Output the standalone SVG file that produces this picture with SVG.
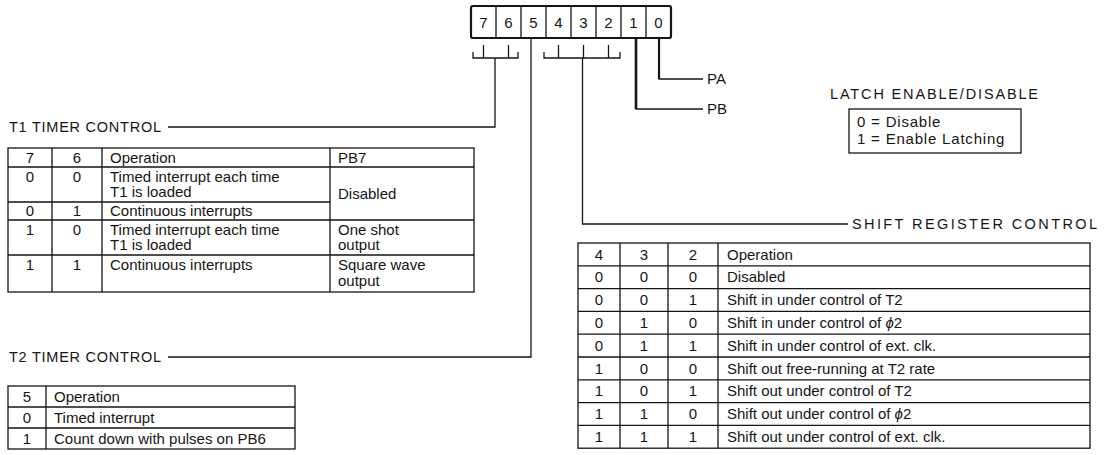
<svg xmlns="http://www.w3.org/2000/svg" width="1104" height="455" viewBox="0 0 1104 455">
<style>
.t{font-family:"Liberation Sans",Arial,sans-serif;font-size:15px;fill:#151515}
.h{font-size:14.5px}
.c{text-anchor:middle}
.ln{stroke:#151515;stroke-width:1.3;fill:none}
.bd{stroke:#151515;stroke-width:2.2;fill:none}
.bg{fill:#fff}
</style>
<rect class="bg" width="1104" height="455"/>

<g id="register">
<rect x="471" y="6" width="200" height="32" rx="2" class="bd"/>
<path class="ln" d="M496 6V38M521 6V38M546 6V38M571 6V38M596 6V38M621 6V38M646 6V38"/>
<text class="t c" x="483.5" y="28">7</text>
<text class="t c" x="508.5" y="28">6</text>
<text class="t c" x="533.5" y="28">5</text>
<text class="t c" x="558.5" y="28">4</text>
<text class="t c" x="583.5" y="28">3</text>
<text class="t c" x="608.5" y="28">2</text>
<text class="t c" x="633.5" y="28">1</text>
<text class="t c" x="658.5" y="28">0</text>
</g>

<g id="connectors">
<path class="ln" d="M473 52V58H518V52M483.5 45V58M508.5 45V58M495 58V127H168"/>
<path class="ln" d="M544 52V58H620V52M558.5 45V58M583.5 45V58M608.5 45V58M582.5 58V224H848"/>
<path class="ln" d="M531 38V357H168"/>
<path class="ln" d="M636 38V109H703" style="stroke-width:1.6"/>
<path class="ln" d="M636 38V109" style="stroke-width:2.6"/>
<path class="ln" d="M659 38V79H703"/>
<path class="ln" d="M659 38V79" style="stroke-width:2.2"/>
</g>

<g id="pa"><text class="t" x="707" y="84">PA</text></g>
<g id="pb"><text class="t" x="707" y="114">PB</text></g>

<g id="latch">
<text class="t h" x="830" y="99" textLength="208" lengthAdjust="spacing">LATCH ENABLE/DISABLE</text>
<rect x="849" y="109" width="172" height="44" class="ln"/>
<text class="t" x="857" y="127" letter-spacing="0.8">0 = Disable</text>
<text class="t" x="857" y="144" letter-spacing="0.8">1 = Enable Latching</text>
</g>

<g id="t1-title"><text class="t h" x="9" y="132" textLength="152" lengthAdjust="spacing">T1 TIMER CONTROL</text></g>

<g id="t1-table">
<rect x="8" y="148" width="466" height="144" class="ln"/>
<path class="ln" d="M52 148V292M102 148V292M330 148V292M8 167H474M8 202H330M8 220H474M8 255H474"/>
<text class="t c" x="30" y="163">7</text><text class="t c" x="77" y="163">6</text>
<text class="t" x="110" y="163">Operation</text><text class="t" x="338" y="163">PB7</text>
<text class="t c" x="30" y="182">0</text><text class="t c" x="77" y="182">0</text>
<text class="t" x="110" y="182">Timed interrupt each time</text>
<text class="t" x="110" y="197">T1 is loaded</text>
<text class="t" x="338" y="199">Disabled</text>
<text class="t c" x="30" y="216">0</text><text class="t c" x="77" y="216">1</text>
<text class="t" x="110" y="216">Continuous interrupts</text>
<text class="t c" x="30" y="235">1</text><text class="t c" x="77" y="235">0</text>
<text class="t" x="110" y="235">Timed interrupt each time</text>
<text class="t" x="110" y="250">T1 is loaded</text>
<text class="t" x="338" y="235">One shot</text>
<text class="t" x="338" y="250">output</text>
<text class="t c" x="30" y="270">1</text><text class="t c" x="77" y="270">1</text>
<text class="t" x="110" y="270">Continuous interrupts</text>
<text class="t" x="338" y="270">Square wave</text>
<text class="t" x="338" y="286">output</text>
</g>

<g id="t2-title"><text class="t h" x="9" y="362" textLength="152" lengthAdjust="spacing">T2 TIMER CONTROL</text></g>

<g id="t2-table">
<rect x="8" y="386" width="287" height="63" class="ln"/>
<path class="ln" d="M46 386V449M8 407H295M8 428H295"/>
<text class="t c" x="27" y="402">5</text><text class="t" x="54" y="402">Operation</text>
<text class="t c" x="27" y="423">0</text><text class="t" x="54" y="423">Timed interrupt</text>
<text class="t c" x="27" y="444">1</text><text class="t" x="54" y="444">Count down with pulses on PB6</text>
</g>

<g id="sr-title"><text class="t h" x="852" y="229" textLength="245" lengthAdjust="spacing">SHIFT REGISTER CONTROL</text></g>

<g id="sr-table">
<rect x="578" y="243" width="512" height="205.2" class="ln"/>
<path class="ln" d="M620 243V448.2M668 243V448.2M718 243V448.2M578 265.8H1090M578 288.6H1090M578 311.4H1090M578 334.2H1090M578 357H1090M578 379.8H1090M578 402.6H1090M578 425.4H1090"/>
<g class="t">
<text class="c" x="599" y="259.5">4</text><text class="c" x="644" y="259.5">3</text><text class="c" x="693" y="259.5">2</text><text x="727" y="259.5">Operation</text>
<text class="c" x="599" y="282.3">0</text><text class="c" x="644" y="282.3">0</text><text class="c" x="693" y="282.3">0</text><text x="727" y="282.3">Disabled</text>
<text class="c" x="599" y="305.1">0</text><text class="c" x="644" y="305.1">0</text><text class="c" x="693" y="305.1">1</text><text x="727" y="305.1">Shift in under control of T2</text>
<text class="c" x="599" y="327.9">0</text><text class="c" x="644" y="327.9">1</text><text class="c" x="693" y="327.9">0</text><text x="727" y="327.9">Shift in under control of <tspan font-style="italic">ϕ</tspan>2</text>
<text class="c" x="599" y="350.7">0</text><text class="c" x="644" y="350.7">1</text><text class="c" x="693" y="350.7">1</text><text x="727" y="350.7">Shift in under control of ext. clk.</text>
<text class="c" x="599" y="373.5">1</text><text class="c" x="644" y="373.5">0</text><text class="c" x="693" y="373.5">0</text><text x="727" y="373.5">Shift out free-running at T2 rate</text>
<text class="c" x="599" y="396.3">1</text><text class="c" x="644" y="396.3">0</text><text class="c" x="693" y="396.3">1</text><text x="727" y="396.3">Shift out under control of T2</text>
<text class="c" x="599" y="419.1">1</text><text class="c" x="644" y="419.1">1</text><text class="c" x="693" y="419.1">0</text><text x="727" y="419.1">Shift out under control of <tspan font-style="italic">ϕ</tspan>2</text>
<text class="c" x="599" y="441.9">1</text><text class="c" x="644" y="441.9">1</text><text class="c" x="693" y="441.9">1</text><text x="727" y="441.9">Shift out under control of ext. clk.</text>
</g>
</g>
</svg>
